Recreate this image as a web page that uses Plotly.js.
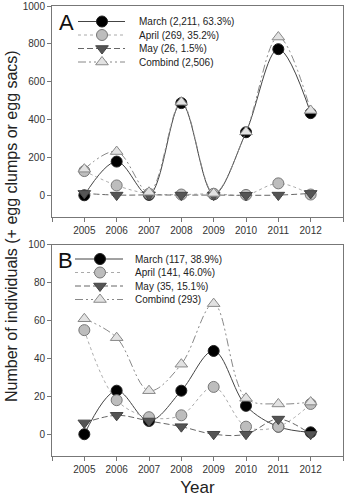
<!DOCTYPE html>
<html>
<head>
<meta charset="utf-8">
<script src="https://cdn.plot.ly/plotly-3.0.1.min.js"></script>
<style>
  html, body { margin: 0; padding: 0; background: #fff; }
  #chart { width: 350px; height: 497px; }
</style>
</head>
<body>
<div id="chart"></div>
<script>
// Years sampled
const years = [2005, 2006, 2007, 2008, 2009, 2010, 2011, 2012];
const yearTicks = [2004, 2005, 2006, 2007, 2008, 2009, 2010, 2011, 2012, 2013];
const yearTickText = ['', '2005', '2006', '2007', '2008', '2009', '2010', '2011', '2012', ''];

// Panel A counts
const marchA = [0, 178, 2, 487, 5, 333, 772, 434];
const aprilA = [128, 52, 8, 4, 8, 2, 63, 4];
const mayA = [10, 1, 2, 1, 1, 0, 1, 10];
const combindA = [138, 231, 16, 492, 10, 335, 836, 448];
const legendA = ['March (2,211, 63.3%)', 'April (269, 35.2%)', 'May (26, 1.5%)', 'Combind (2,506)'];

// Panel B counts
const marchB = [0, 23, 7, 23, 44, 15, 4, 1];
const aprilB = [55, 18, 9, 10, 25, 4, 4, 16];
const mayB = [6, 10, 7, 4, 0, 0, 8, 0];
const combindB = [61, 51, 23, 37, 69, 19, 16, 17];
const legendB = ['March (117, 38.9%)', 'April (141, 46.0%)', 'May (35, 15.1%)', 'Combind (293)'];

const FONT = 'Liberation Sans, Arial, sans-serif';

// Series styles: March, April, May, Combind
const styles = [
  { line: { color: '#444', width: 1, dash: 'solid' },
    marker: { symbol: 'circle', color: '#000', size: 11, line: { color: '#222', width: 1 } } },
  { line: { color: '#aaa', width: 1, dash: 'dot' },
    marker: { symbol: 'circle', color: '#bdbdbd', size: 11, line: { color: '#777', width: 1 } } },
  { line: { color: '#666', width: 1, dash: '6px,3px' },
    marker: { symbol: 'triangle-down', color: '#555', size: 11, line: { color: '#444', width: 1 } } },
  { line: { color: '#888', width: 1, dash: '8px,3px,2px,3px,2px,3px' },
    marker: { symbol: 'triangle-up', color: '#e2e2e2', size: 11, line: { color: '#888', width: 1 } } }
];

function panelTraces(series, xa, ya) {
  return series.map((vals, i) => ({
    type: 'scatter', mode: 'lines+markers',
    x: years, y: vals, xaxis: xa, yaxis: ya,
    line: Object.assign({ shape: 'spline', smoothing: 1 }, styles[i].line),
    marker: styles[i].marker,
    showlegend: false, hoverinfo: 'x+y', cliponaxis: false
  }));
}

// Key drawn in pixel space on a hidden full-figure subplot
function keyTraces(labels, x0, x1, xm, rows) {
  const tr = [];
  labels.forEach((lab, i) => {
    tr.push({ type: 'scatter', mode: 'lines', x: [x0, x1], y: [rows[i], rows[i]],
      xaxis: 'x3', yaxis: 'y3', line: styles[i].line, showlegend: false, hoverinfo: 'skip' });
    tr.push({ type: 'scatter', mode: 'markers', x: [xm], y: [rows[i]],
      xaxis: 'x3', yaxis: 'y3', marker: styles[i].marker, showlegend: false, hoverinfo: 'skip' });
  });
  return tr;
}
function keyText(labels, xt, rows) {
  return labels.map((lab, i) => ({
    xref: 'x3', yref: 'y3', x: xt, y: rows[i], text: lab, showarrow: false,
    xanchor: 'left', yanchor: 'middle', font: { family: FONT, size: 10, color: '#222' }
  }));
}

const rowsA = [21.5, 35, 48.5, 62];
const rowsB = [259, 272.5, 286, 299.5];

const data = []
  .concat(panelTraces([marchA, aprilA, mayA, combindA], 'x', 'y'))
  .concat(panelTraces([marchB, aprilB, mayB, combindB], 'x2', 'y2'))
  .concat(keyTraces(legendA, 78, 125, 102, rowsA))
  .concat(keyTraces(legendB, 75, 123, 100, rowsB));

const axisCommon = {
  showline: true, mirror: true, linecolor: '#777', linewidth: 1,
  ticks: 'outside', ticklen: 4, tickcolor: '#777', showgrid: false, zeroline: false,
  tickfont: { family: FONT, size: 10, color: '#333' }, fixedrange: true
};

const layout = {
  width: 350, height: 497,
  margin: { l: 52, r: 7, t: 6, b: 41 },
  paper_bgcolor: '#fff', plot_bgcolor: 'rgba(0,0,0,0)',
  showlegend: false,
  xaxis: Object.assign({}, axisCommon, { domain: [0, 1], anchor: 'y', range: [2004, 2013],
    tickvals: yearTicks, ticktext: yearTickText }),
  yaxis: Object.assign({}, axisCommon, { domain: [0.531, 1], anchor: 'x', range: [-115, 1000],
    tickvals: [0, 200, 400, 600, 800, 1000] }),
  xaxis2: Object.assign({}, axisCommon, { domain: [0, 1], anchor: 'y2', range: [2004, 2013],
    tickvals: yearTicks, ticktext: yearTickText,
    title: { text: 'Year', font: { family: FONT, size: 17, color: '#222' }, standoff: 14 } }),
  yaxis2: Object.assign({}, axisCommon, { domain: [0, 0.469], anchor: 'x2', range: [-11.5, 100],
    tickvals: [0, 20, 40, 60, 80, 100] }),
  xaxis3: { domain: [0, 1], anchor: 'y3', range: [52, 343], visible: false, fixedrange: true },
  yaxis3: { domain: [0, 1], anchor: 'x3', range: [456, 6], visible: false, fixedrange: true },
  annotations: [
    { xref: 'x3', yref: 'y3', x: 57, y: 22, text: 'A', showarrow: false, xanchor: 'left', yanchor: 'middle',
      font: { family: FONT, size: 22, color: '#111' } },
    { xref: 'x3', yref: 'y3', x: 56, y: 260, text: 'B', showarrow: false, xanchor: 'left', yanchor: 'middle',
      font: { family: FONT, size: 22, color: '#111' } },
    { xref: 'paper', yref: 'paper', x: -0.141, y: 0.511, text: 'Number of individuals (+ egg clumps or egg sacs)',
      showarrow: false, textangle: -90, xanchor: 'center', yanchor: 'middle',
      font: { family: FONT, size: 16, color: '#222' } }
  ].concat(keyText(legendA, 137, rowsA)).concat(keyText(legendB, 133, rowsB))
};

Plotly.newPlot('chart', data, layout, { staticPlot: true, displayModeBar: false });
</script>
</body>
</html>
